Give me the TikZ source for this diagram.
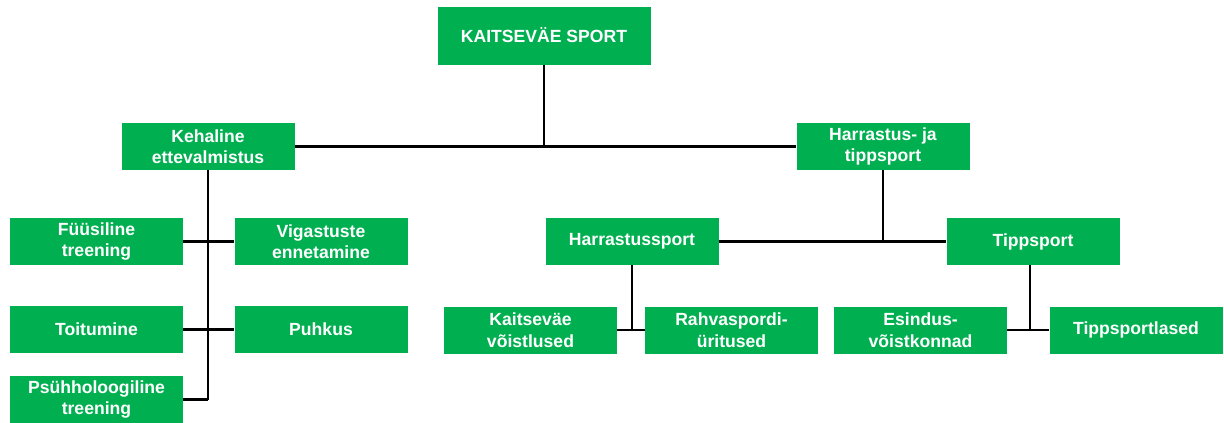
\documentclass[tikz,border=0pt]{standalone}
\usepackage{fontspec}
\setmainfont{Liberation Sans}
\usepackage{tikz}
\definecolor{boxgreen}{HTML}{00B050}

\begin{document}
\begin{tikzpicture}[x=1pt,y=-1pt,
  box/.style={fill=boxgreen,text=white,align=center,inner sep=0pt,
    font=\bfseries\fontsize{17.6}{21.5}\selectfont,
    minimum width=173pt,minimum height=47pt},
  link/.style={line width=2.8pt}]
\useasboundingbox (0,0) rectangle (1224,423);
% top
\node [box,minimum width=213pt,minimum height=58pt] (k) at (544,35.5) {KAITSEVÄE SPORT};
\node [box] (a) at (208,146.5) {Kehaline\\ettevalmistus};
\node [box] (b) at (883,146.5) {Harrastus- ja\\tippsport};
% left branch
\node [box] (f) at (96.5,241.5) {Füüsiline\\treening};
\node [box] (v) at (321,241.5) {Vigastuste\\ennetamine};
\node [box] (t) at (96.5,329.5) {Toitumine};
\node [box] (h) at (321,329.5) {Puhkus};
\node [box] (p) at (96.5,399.5) {Psühholoogiline\\treening};
% right branch
\node [box] (hs) at (632,241.5) {Harrastussport};
\node [box] (ts) at (1033,241.5) {Tippsport};
\node [box] (kv) at (530.5,330) {Kaitseväe\\võistlused};
\node [box] (rv) at (731.5,330) {Rahvaspordi-\\üritused};
\node [box] (ev) at (920.5,330) {Esindus-\\võistkonnad};
\node [box] (tl) at (1136,330) {Tippsportlased};

\draw [link] (k) -- (k |- a);
\draw [link] (a) -- (b);
\draw [link] (a) -- (a |- p);
\draw [link] (f) -- (v);
\draw [link] (t) -- (h);
\draw [link] (p) -- (a |- p);
\draw [link] (b) -- (b |- hs);
\draw [link] (hs) -- (ts);
\draw [link] (hs) -- (hs |- kv);
\draw [link] (kv) -- (rv);
\draw [link] ([xshift=-3pt]ts.south) -- ([xshift=-3pt]ts.south |- ev);
\draw [link] (ev) -- (tl);
\end{tikzpicture}
\end{document}
